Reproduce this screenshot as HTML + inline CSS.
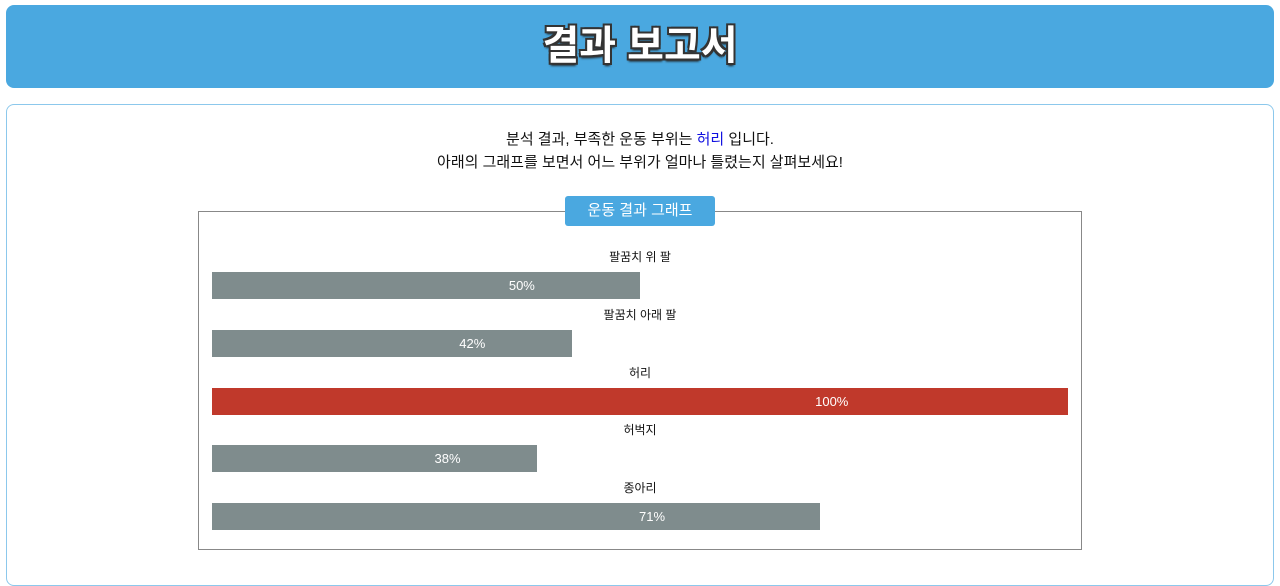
<!DOCTYPE html>
<html><head><meta charset="utf-8"><style>
body{margin:0;width:1280px;height:568px;overflow:hidden;background:#fff;font-family:"Liberation Sans","Noto Sans CJK KR",sans-serif;position:relative}
#hdr{position:absolute;left:6px;top:5px;width:1268px;height:83px;background:#4aa8e0;border-radius:8px;text-align:center;line-height:83px;color:#fff;font-size:40px;font-weight:bold;text-shadow:-2px -2px 0 #333,2px -2px 0 #333,-2px 2px 0 #333,2px 2px 0 #333,0 3px 2px #222}
#panel{position:absolute;left:6px;top:104px;width:1266px;height:480px;border:1px solid #8cc8ec;border-radius:8px}
.msg{position:absolute;left:0;width:1280px;text-align:center;font-size:15px;color:#111}
#box{position:absolute;left:198px;top:211px;width:882px;height:337px;border:1px solid #888}
#tag{position:absolute;left:565px;top:196px;width:150px;height:30px;background:#4aa8e0;border-radius:3px;color:#fff;text-align:center;line-height:30px;font-size:15px}
.lbl{position:absolute;font-size:12px;color:#111;transform:translateX(-50%)}
.bar{position:absolute;height:27px}
.pct{position:absolute;color:#fff;font-size:13px;transform:translateX(-50%);line-height:27px}
</style></head><body>
<div id="hdr">결과 보고서</div>
<div id="panel"></div>
<div class="msg" style="top:128px">분석 결과, 부족한 운동 부위는 <span style="color:#1010e0">허리</span> 입니다.</div>
<div class="msg" style="top:151px">아래의 그래프를 보면서 어느 부위가 얼마나 틀렸는지 살펴보세요!</div>
<div id="box"></div>
<div id="tag">운동 결과 그래프</div>
<div id="chart"></div>
<script>
const categories=["팔꿈치 위 팔","팔꿈치 아래 팔","허리","허벅지","종아리"];
const values=[50,42,100,38,71];
const x0=212,fullW=856,top0=272,step=57.8,bh=27;
function xw(v){return v/100*fullW;}
const c=document.getElementById('chart');
const mx=Math.max(...values);
categories.forEach((cat,i)=>{
 const y=Math.round(top0+i*step);
 const l=document.createElement('div');l.className='lbl';
 
 
 l.style.left='640px';l.style.top=(y-24)+'px';l.textContent=cat;c.appendChild(l);
 const b=document.createElement('div');b.className='bar';
 
 
 b.style.left=x0+'px';b.style.top=y+'px';b.style.width=xw(values[i])+'px';
 b.style.background=values[i]===mx?'#c0392b':'#7f8c8d';c.appendChild(b);
 const p=document.createElement('div');p.className='pct';
 
 
 p.style.left=(x0+xw(values[i])*0.724)+'px';p.style.top=y+'px';p.textContent=values[i]+'%';c.appendChild(p);
});
</script>
</body></html>
